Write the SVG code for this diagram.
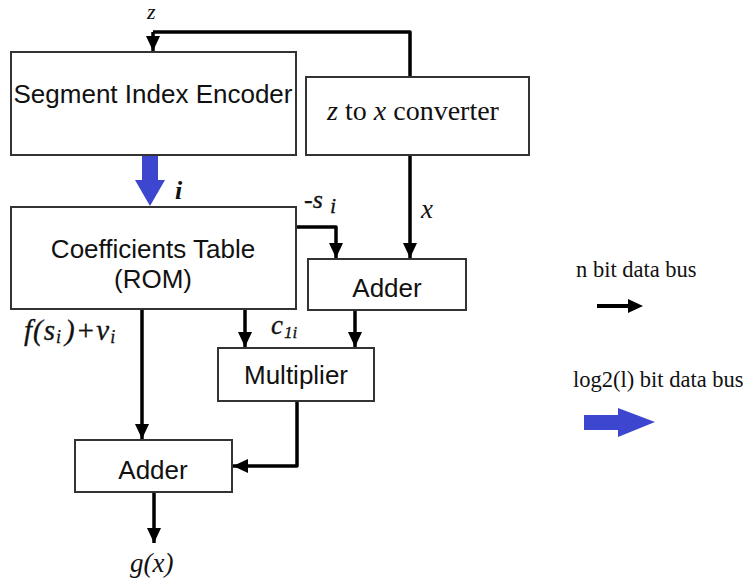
<svg xmlns="http://www.w3.org/2000/svg" width="744" height="582" viewBox="0 0 744 582">
  <style>
    .box { fill: #fff; stroke: #333; stroke-width: 2; }
    .sans { font-family: "Liberation Sans", Arial, sans-serif; font-size: 26px; fill: #111; text-anchor: middle; }
    .serif { font-family: "Liberation Serif", "Times New Roman", serif; fill: #111; }
    .it { font-style: italic; }
    .heavy { stroke: #111; stroke-width: 0.3; }
    .wire { fill: none; stroke: #000; stroke-width: 3.5; stroke-linejoin: round; }
    .bus { fill: #3d46cf; }
  </style>
  <defs>
    <marker id="head" markerUnits="userSpaceOnUse" markerWidth="16" markerHeight="14" refX="15" refY="7" orient="auto">
      <path d="M0,0 L15,7 L0,14 z" fill="#000"/>
    </marker>
  </defs>

  <rect width="744" height="582" fill="#fff"/>

  <!-- connectors -->
  <g id="connectors">
    <!-- z input feeds both the encoder and the converter -->
    <path class="wire" d="M410,77 L410,32 L153,32" />
    <line class="wire" x1="153" y1="32" x2="153" y2="51" marker-end="url(#head)"/>
    <!-- converter output x to upper adder -->
    <line class="wire" x1="410" y1="155" x2="410" y2="258" marker-end="url(#head)"/>
    <!-- -s_i from coefficients table to upper adder -->
    <path class="wire" d="M296,227 L336,227 L336,258" marker-end="url(#head)"/>
    <!-- c_1i to multiplier -->
    <line class="wire" x1="245" y1="309" x2="245" y2="347" marker-end="url(#head)"/>
    <!-- adder result to multiplier -->
    <line class="wire" x1="355" y1="310" x2="355" y2="347" marker-end="url(#head)"/>
    <!-- f(s_i)+v_i to lower adder -->
    <line class="wire" x1="142" y1="309" x2="142" y2="439" marker-end="url(#head)"/>
    <!-- multiplier product to lower adder -->
    <path class="wire" d="M297,401 L297,466 L233,466" marker-end="url(#head)"/>
    <!-- final output g(x) -->
    <line class="wire" x1="154" y1="492" x2="154" y2="543" marker-end="url(#head)"/>
    <!-- index bus i (wide) -->
    <path class="bus" d="M142,155 L158,155 L158,180 L165,180 L150,206 L135,180 L142,180 z"/>
  </g>

  <!-- nodes -->
  <g id="segment-index-encoder">
    <rect class="box" x="11" y="52" width="285" height="103"/>
    <text class="sans" x="153" y="103">Segment Index Encoder</text>
  </g>

  <g id="z-to-x-converter">
    <rect class="box" x="306" y="77" width="223" height="78"/>
    <text class="serif" x="413" y="120" font-size="28" text-anchor="middle"><tspan class="it">z</tspan> to <tspan class="it">x</tspan> converter</text>
  </g>

  <g id="coefficients-table">
    <rect class="box" x="11" y="207" width="285" height="102"/>
    <text class="sans" x="153" y="258">Coefficients Table</text>
    <text class="sans" x="153" y="288">(ROM)</text>
  </g>

  <g id="adder-upper">
    <rect class="box" x="308" y="259" width="158" height="51"/>
    <text class="sans" x="387" y="297">Adder</text>
  </g>

  <g id="multiplier">
    <rect class="box" x="218" y="348" width="156" height="53"/>
    <text class="sans" x="296" y="384">Multiplier</text>
  </g>

  <g id="adder-lower">
    <rect class="box" x="75" y="440" width="157" height="52"/>
    <text class="sans" x="153" y="479">Adder</text>
  </g>

  <!-- signal labels -->
  <g id="labels" class="serif it">
    <text x="147" y="19" font-size="22">z</text>
    <text x="175" y="199" font-size="26" font-weight="bold">i</text>
    <text class="heavy" x="304" y="208" font-size="26">-s</text>
    <text class="heavy" x="330" y="213" font-size="22">i</text>
    <text x="421" y="218" font-size="27">x</text>
    <text class="heavy" x="271" y="334" font-size="27">c</text>
    <text class="heavy" x="284" y="338" font-size="17">1i</text>
    <text class="heavy" x="24" y="340" font-size="29" letter-spacing="1">f(s<tspan font-size="18" dy="3">i</tspan><tspan dx="3" dy="-3">)+v</tspan><tspan font-size="18" dy="3">i</tspan></text>
    <text x="130" y="572" font-size="27">g(x)</text>
  </g>

  <!-- legend -->
  <g id="legend">
    <text class="serif" x="576" y="277" font-size="22.5">n bit data bus</text>
    <line x1="597" y1="306" x2="630" y2="306" stroke="#000" stroke-width="4"/>
    <path d="M628,299 L643,306 L628,313 z" fill="#000"/>
    <text class="serif" x="573" y="387" font-size="22.5">log2(l) bit data bus</text>
    <path class="bus" d="M584,415 L618,415 L618,408 L655,422 L618,437 L618,430 L584,430 z"/>
  </g>
</svg>
